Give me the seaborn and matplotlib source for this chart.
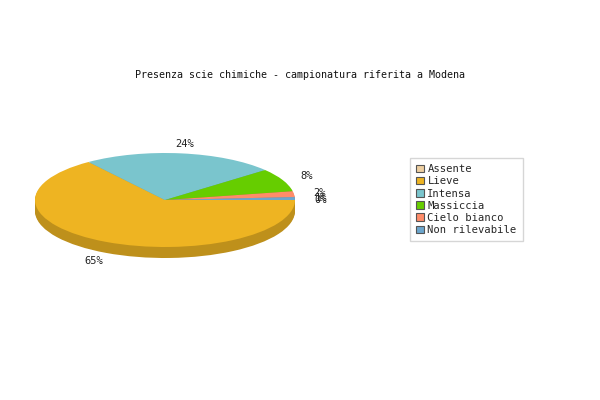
import numpy as np
import matplotlib
matplotlib.use("Agg")
import matplotlib.pyplot as plt
from matplotlib.patches import Patch
import seaborn as sns

# data
categories = ['Assente', 'Lieve', 'Intensa', 'Massiccia', 'Cielo bianco', 'Non rilevabile']
values = [0, 65, 24, 8, 2, 1]
hex_colors = ['#EECFA1', '#EEB422', '#7AC5CD', '#66CD00', '#FF8C69', '#6CA6CD']
title = 'Presenza scie chimiche - campionatura riferita a Modena'

sns.set_style('white')
plt.rcParams['font.family'] = ['DejaVu Sans Mono', 'DejaVu Sans']

palette = sns.color_palette(hex_colors)
dark = [tuple(c * 0.8 for c in col) for col in palette]

fig = plt.figure(figsize=(6, 4), dpi=100)
ax = fig.add_axes([0, 0, 1, 1])

# pie geometry in pixels (center, radii, thickness)
cx, cy, rx, ry, depth = 165, 200, 130, 47, 11

# side of the 3d pie: stacked darker copies
for k in np.arange(depth, 0, -1):
    ax.pie(values, colors=dark, startangle=0, counterclock=False,
           center=(0, -k / ry), radius=1, wedgeprops=dict(linewidth=0))
wedges, _ = ax.pie(values, colors=palette, startangle=0, counterclock=False,
                   center=(0, 0), radius=1, wedgeprops=dict(linewidth=0))

# percentage labels around the ellipse
total = sum(values)
start = 0.0
for v in values:
    span = 360.0 * v / total
    mid = np.deg2rad(start - span / 2)
    start -= span
    c, s = np.cos(mid), np.sin(mid)
    x = 1.2 * c
    y = 1.2 * s
    if s < 0:
        y -= depth / ry
    ax.text(x, y, f'{round(100 * v / total):d}%', ha='center', va='center',
            fontsize=7.5, color='#222222')

ax.set_aspect('auto')
ax.set_xlim(-cx / rx, (600 - cx) / rx)
ax.set_ylim(-(400 - cy) / ry, cy / ry)
ax.axis('off')

handles = [Patch(facecolor=col, edgecolor='#555555', linewidth=0.8) for col in palette]
leg = fig.legend(handles, categories, loc='upper left',
                 bbox_to_anchor=(410 / 600, 1 - 158 / 400),
                 fontsize=7.6, frameon=True, fancybox=False, edgecolor='#cccccc',
                 handlelength=0.7, handleheight=0.7, handletextpad=0.35,
                 labelspacing=0.2, borderpad=0.6, borderaxespad=0)
leg.get_frame().set_linewidth(1)

fig.text(0.5, 1 - 75 / 400, title, ha='center', va='center', fontsize=7.2, color='#111111')

fig.savefig('out.png', dpi=100, facecolor='white')
